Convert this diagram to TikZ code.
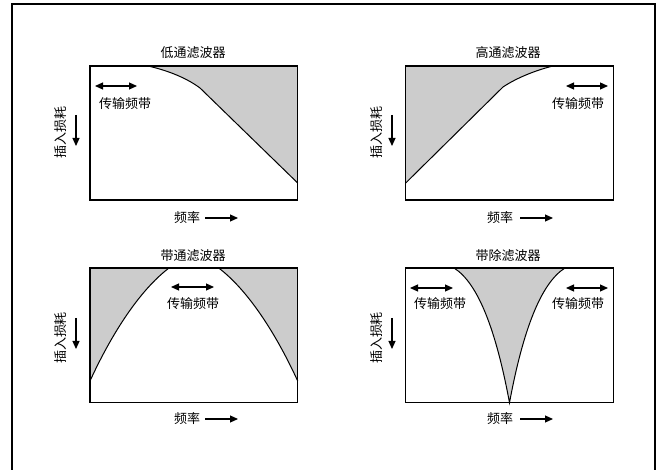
\documentclass[tikz,border=0pt]{standalone}
\usepackage{fontspec}
\setmainfont{Noto Sans CJK SC}
\usetikzlibrary{arrows.meta}
\begin{document}
\begin{tikzpicture}[x=1pt,y=-1pt,
  lbl/.style={inner sep=0pt,font=\fontsize{13}{15}\selectfont},
  box/.style={draw=black,line width=1.4pt},
  curve/.style={draw=black,line width=1pt},
  shade/.style={fill=black!20},
  arr/.style={line width=1.2pt,-{Triangle[length=8pt,width=7pt]}},
  darr/.style={line width=1.2pt,{Triangle[length=8pt,width=7pt]}-{Triangle[length=8pt,width=7pt]}},
  frame/.style={draw=black,line width=1.2pt}]
\useasboundingbox (0,0) rectangle (659,470);
\draw[frame] (12,470) -- (12,4) -- (655,4) -- (655,470);

% ---------- Panel 1: low pass ----------
\fill[shade] (148,66) .. controls (170,71) and (188,79) .. (200,88) -- (297.7,183) -- (297.7,66) -- cycle;
\draw[curve] (148,66) .. controls (170,71) and (188,79) .. (200,88) -- (297.7,183);
\draw[box] (90,66) rectangle (297.7,200);
\node[lbl] (t1) at (193,53) {低通滤波器};
\coordinate (p1a) at (95,86); \coordinate (p1b) at (137,86);
\draw[darr] (p1a) -- (p1b);
\node[lbl] (pb1) at (125,104) {传输频带};
\node[lbl,rotate=90] (y1) at (61,133) {插入损耗};
\coordinate (y1a) at (76,115); \coordinate (y1b) at (76,146);
\draw[arr] (y1a) -- (y1b);
\node[lbl] (f1) at (187,218) {频率};
\coordinate (f1a) at (205,218); \coordinate (f1b) at (238,218);
\draw[arr] (f1a) -- (f1b);

% ---------- Panel 2: high pass ----------
\fill[shade] (405.7,183) -- (503,87) .. controls (515,79) and (533,71) .. (553,66) -- (405.7,66) -- cycle;
\draw[curve] (405.7,183) -- (503,87) .. controls (515,79) and (533,71) .. (553,66);
\draw[box] (405.7,66) rectangle (613.3,200);
\node[lbl] (t2) at (508,53) {高通滤波器};
\coordinate (p2a) at (566,86); \coordinate (p2b) at (608,86);
\draw[darr] (p2a) -- (p2b);
\node[lbl] (pb2) at (578,104) {传输频带};
\node[lbl,rotate=90] (y2) at (377,133) {插入损耗};
\coordinate (y2a) at (392,115); \coordinate (y2b) at (392,146);
\draw[arr] (y2a) -- (y2b);
\node[lbl] (f2) at (500,218) {频率};
\coordinate (f2a) at (520,218); \coordinate (f2b) at (553,218);
\draw[arr] (f2a) -- (f2b);

% ---------- Panel 3: band pass ----------
\fill[shade] (90,381) .. controls (112,333) and (140,290) .. (169,268) -- (90,268) -- cycle;
\fill[shade] (297.7,381) .. controls (275.7,333) and (247.7,290) .. (218.7,268) -- (297.7,268) -- cycle;
\draw[curve] (90,381) .. controls (112,333) and (140,290) .. (169,268);
\draw[curve] (297.7,381) .. controls (275.7,333) and (247.7,290) .. (218.7,268);
\draw[box] (90,268) rectangle (297.7,402.7);
\node[lbl] (t3) at (193,256) {带通滤波器};
\coordinate (p3a) at (171,287); \coordinate (p3b) at (214,287);
\draw[darr] (p3a) -- (p3b);
\node[lbl] (pb3) at (193,304) {传输频带};
\node[lbl,rotate=90] (y3) at (61,338) {插入损耗};
\coordinate (y3a) at (76,318); \coordinate (y3b) at (76,349);
\draw[arr] (y3a) -- (y3b);
\node[lbl] (f3) at (187,419) {频率};
\coordinate (f3a) at (205,419); \coordinate (f3b) at (238,419);
\draw[arr] (f3a) -- (f3b);

% ---------- Panel 4: band stop ----------
\fill[shade] (454,268) .. controls (478,283) and (496,330) .. (509.5,402.7) .. controls (523,330) and (541,283) .. (565,268) -- cycle;
\draw[curve] (454,268) .. controls (478,283) and (496,330) .. (509.5,402.7) .. controls (523,330) and (541,283) .. (565,268);
\draw[box] (405.7,268) rectangle (613.3,402.7);
\node[lbl] (t4) at (508,256) {带除滤波器};
\coordinate (p4a) at (410,288); \coordinate (p4b) at (453,288);
\draw[darr] (p4a) -- (p4b);
\node[lbl] (pb4) at (440,304) {传输频带};
\coordinate (p5a) at (566,288); \coordinate (p5b) at (608,288);
\draw[darr] (p5a) -- (p5b);
\node[lbl] (pb5) at (578,304) {传输频带};
\node[lbl,rotate=90] (y4) at (377,338) {插入损耗};
\coordinate (y4a) at (392,318); \coordinate (y4b) at (392,349);
\draw[arr] (y4a) -- (y4b);
\node[lbl] (f4) at (500,419) {频率};
\coordinate (f4a) at (520,419); \coordinate (f4b) at (553,419);
\draw[arr] (f4a) -- (f4b);
\end{tikzpicture}
\end{document}
